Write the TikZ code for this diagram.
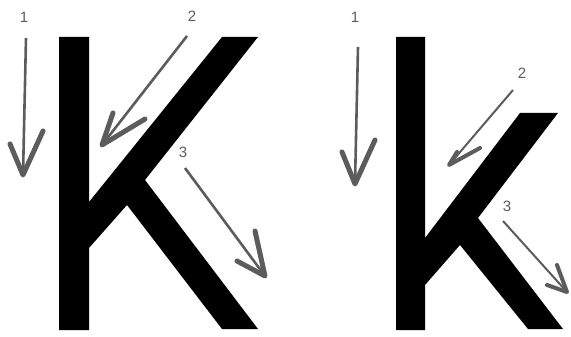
\documentclass[tikz,border=0pt]{standalone}
\usepackage{fontspec}
\setmainfont{Liberation Sans}
\definecolor{arrowgray}{HTML}{5C5C5C}
\begin{document}
\begin{tikzpicture}[x=1pt,y=-1pt,
  letter/.style={fill=black},
  shaft/.style={draw=arrowgray,line width=2.6pt},
  barb/.style={draw=arrowgray,line width=5pt,line cap=round,line join=round},
  barbsmall/.style={draw=arrowgray,line width=4pt,line cap=round,line join=round},
  num/.style={text=arrowgray,font=\fontsize{15}{15}\selectfont,inner sep=0pt}]
\useasboundingbox (0,0) rectangle (571,337);
% Left K
\fill[letter] (59,37) -- (89,37) -- (89,202) -- (222,37) -- (258,37) -- (145,180)
  -- (258,329) -- (222,329) -- (127,205) -- (89,248) -- (89,330) -- (59,330) -- cycle;
% Right K
\fill[letter] (396,37) -- (425,37) -- (425,238) -- (520,113) -- (558,113) -- (478,218)
  -- (563,329) -- (528,329) -- (460,245) -- (425,285) -- (425,330) -- (396,330) -- cycle;
% Left arrows
\node[num] (l1) at (24,17) {1};
\node[num] (l2) at (192,16) {2};
\node[num] (l3) at (183,152) {3};
\coordinate (a1s) at (26,38);  \coordinate (a1e) at (23,175);
\coordinate (a2s) at (187,36); \coordinate (a2e) at (102,145);
\coordinate (a3s) at (185,168); \coordinate (a3e) at (265,276);
\draw[shaft] (a1s) -- (a1e);
\draw[barb] (10,144) -- (a1e) -- (43,131);
\draw[shaft] (a2s) -- (a2e);
\draw[barb] (113,113) -- (a2e) -- (145,119);
\draw[shaft] (a3s) -- (a3e);
\draw[barb] (255,231) -- (a3e) -- (237,261);
% Right arrows
\node[num] (r1) at (355,17) {1};
\node[num] (r2) at (522,73) {2};
\node[num] (r3) at (507,206) {3};
\coordinate (b1s) at (358,47);  \coordinate (b1e) at (355,184);
\coordinate (b2s) at (513,90);  \coordinate (b2e) at (449,165);
\coordinate (b3s) at (503,221); \coordinate (b3e) at (567,292);
\draw[shaft] (b1s) -- (b1e);
\draw[barb] (342,152) -- (b1e) -- (375,140);
\draw[shaft,line width=2pt] (b2s) -- (b2e);
\draw[barbsmall] (457,152) -- (b2e) -- (480,148);
\draw[shaft,line width=2pt] (b3s) -- (b3e);
\draw[barbsmall] (557,265) -- (b3e) -- (547,285);
\end{tikzpicture}
\end{document}
